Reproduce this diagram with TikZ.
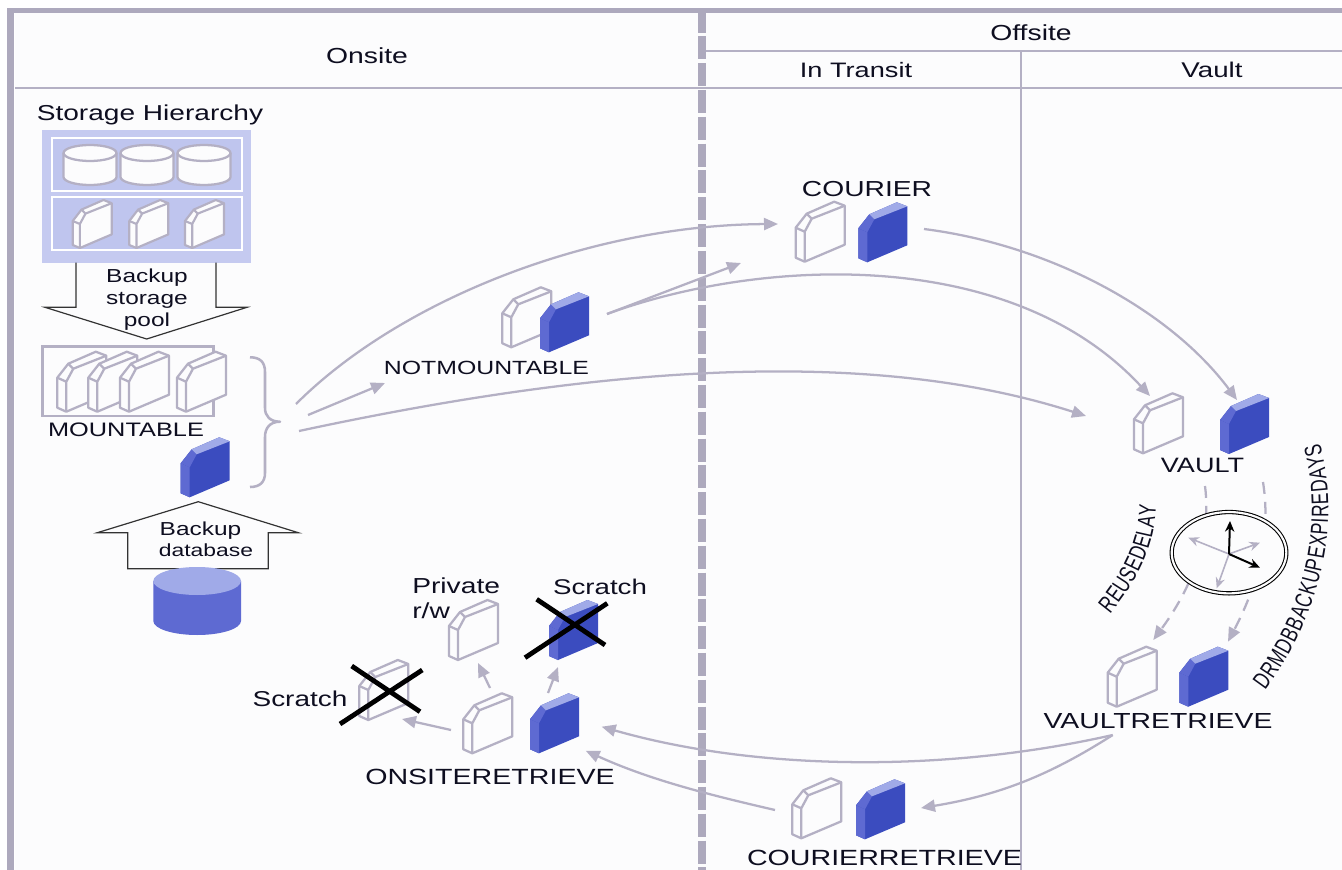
\documentclass[tikz,border=0pt]{standalone}
\usepackage{fontspec}
\setmainfont[FakeStretch=1.3]{Liberation Sans}
\newfontfamily\curvefont[FakeStretch=0.72]{Liberation Sans}
\usetikzlibrary{arrows.meta,decorations.text,shapes.geometric}
\definecolor{bgc}{HTML}{FCFCFD}
\definecolor{frm}{HTML}{ADA9BD}
\definecolor{lnc}{HTML}{B4B0C4}
\definecolor{front}{HTML}{3B4CBF}
\definecolor{sidec}{HTML}{5E6AD2}
\definecolor{topc}{HTML}{A0AAE8}
\definecolor{hier}{HTML}{C5CAF0}
\definecolor{hierin}{HTML}{BFC5EE}
\definecolor{txt}{HTML}{0E0E20}
\newcommand\pxfont[1]{\fontsize{\the\dimexpr#1pt*3/4\relax}{\the\dimexpr#1pt*9/10\relax}\selectfont}
\tikzset{
  lab/.style={font=\pxfont{#1},text=txt,inner sep=0pt,yshift=-0.75pt},
  flow/.style={draw=lnc,line width=1.7pt,-{Triangle[length=10.5pt,width=9pt,fill=lnc]}},
  dashflow/.style={draw=lnc,line width=1.7pt,dash pattern=on 9pt off 6pt,-{Triangle[length=10.5pt,width=9pt,fill=lnc]}},
  rule/.style={draw=lnc,line width=1.9pt},
  bigarrow/.style={draw=black!80,line width=0.9pt,line join=miter},
  cross/.style={draw=black,line width=3.6pt},
  hand/.style={line width=#1,-{Stealth[length=8pt,width=7pt]}},
  whitetape/.pic={
    \filldraw[draw=lnc,fill=bgc,line width=1.7pt,line join=round]
      (0,56)--(9,60)--(49,43)--(49,4)--(38.5,0)--(11,12)--(0,26)--cycle;
    \draw[lnc,line width=1.7pt,line join=round] (0,26)--(9,30)--(9,60) (9,30)--(16,17)--(49,4) (11,12)--(16,17);
  },
  bluetape/.pic={
    \fill[front] (0,56)--(9,60)--(49,43)--(49,4)--(38.5,0)--(11,12)--(0,26)--cycle;
    \fill[sidec] (0,56)--(9,60)--(9,30)--(0,26)--cycle;
    \fill[sidec] (0,26)--(9,30)--(16,17)--(11,12)--cycle;
    \fill[topc] (11,12)--(38.5,0)--(49,4)--(16,17)--cycle;
  },
  smalltape/.pic={
    \filldraw[draw=lnc,fill=bgc,line width=1.6pt,line join=round]
      (0,45)--(7.2,48)--(39,34.4)--(39,3.2)--(30.8,0)--(8.8,9.6)--(0,21)--cycle;
    \draw[lnc,line width=1.6pt,line join=round] (0,21)--(7.2,24)--(7.2,48) (7.2,24)--(12.8,13.6)--(39,3.2) (8.8,9.6)--(12.8,13.6);
  },
  disk/.pic={
    \filldraw[draw=lnc,fill=bgc,line width=1.7pt]
      (0,8)--(0,32) arc[x radius=26.5,y radius=8,start angle=180,end angle=0]--(53,8) arc[x radius=26.5,y radius=8,start angle=0,end angle=-180]--cycle;
    \draw[lnc,line width=1.7pt] (0,8) arc[x radius=26.5,y radius=8,start angle=180,end angle=0];
  }
}
\begin{document}
\begin{tikzpicture}[x=0.75pt,y=-0.75pt]
\useasboundingbox (0,0) rectangle (1342,870);
\fill[white] (0,0) rectangle (1342,870);
\fill[bgc] (15,13) rectangle (1342,870);
% frame
\fill[frm] (7,8) rectangle (14,870);
\fill[frm] (7,8) rectangle (1342,13);
\draw[rule] (15,88) -- (1342,88);
\draw[rule] (703,51) -- (1342,51);
\draw[rule] (1021,51) -- (1021,870);
\draw[frm,line width=5.5pt,dash pattern=on 17.25pt off 2.85pt] (702,9.7) -- (702,870);
% headers
\node[lab=21.8] (onsite) at (367,55) {Onsite};
\node[lab=21.8] (offsite) at (1031,32) {Offsite};
\node[lab=20.9] (transit) at (856,69) {In Transit};
\node[lab=21.3] (vaulthdr) at (1212,69) {Vault};
% storage hierarchy
\node[lab=21.6] (sh) at (150,113.5) {Storage Hierarchy};
\fill[hier] (41.7,130) rectangle (250.7,262.7);
\draw[white,line width=1.7pt,fill=hierin] (51.7,137.7) rectangle (241.7,191);
\draw[white,line width=1.7pt,fill=hierin] (51.7,197.3) rectangle (241.7,250);
\pic at (63.5,145) {disk};
\pic at (120.5,145) {disk};
\pic at (177.5,145) {disk};
\pic at (72.7,200) {smalltape};
\pic at (129.3,200) {smalltape};
\pic at (185,200) {smalltape};
% backup storage pool arrow
\draw[bigarrow] (76,262.7)--(76,307.3)--(45,307.3)--(146.7,339)--(247,307.3)--(216,307.3)--(216,262.7);
\node[lab=18.8] (bsp1) at (147,277) {Backup};
\node[lab=18.8] (bsp2) at (147,299) {storage};
\node[lab=18.8] (bsp3) at (147,320.5) {pool};
% mountable
\draw[rule] (42.7,346.7) rectangle (213.3,416);
\pic at (57.3,351.7) {whitetape};
\pic at (88.3,351.7) {whitetape};
\pic at (120,351.7) {whitetape};
\pic at (177,351.7) {whitetape};
\node[lab=19.5] (mountable) at (126,429) {MOUNTABLE};
\pic at (180.7,437.3) {bluetape};
% brace
\draw[rule,line join=round] (250,357.3) .. controls (260,357.3) and (265,362) .. (265,372) -- (265,408) .. controls (265,416) and (270,421.7) .. (280,421.7) .. controls (270,421.7) and (265,428) .. (265,437) -- (265,473) .. controls (265,482) and (260,487) .. (250,487);
% database arrow
\draw[bigarrow] (127.7,568.7)--(127.7,532.7)--(97.3,532.7)--(198.3,501.7)--(298.3,532.7)--(268.3,532.7)--(268.3,568.7)--cycle;
\node[lab=18.8] (bd1) at (200.5,530) {Backup};
\node[lab=17.6] (bd2) at (206,549) {database};
\fill[sidec] (153.3,581) -- (153.3,621) arc[x radius=43.85,y radius=14,start angle=180,end angle=0] -- (241,581) -- cycle;
\fill[topc] (197.15,581) ellipse[x radius=43.85,y radius=14];
% tape groups
\pic at (502.3,287.3) {whitetape};
\pic at (540,292.3) {bluetape};
\node[lab=19.1] (notm) at (486.5,367) {NOTMOUNTABLE};
\pic at (795.7,201.7) {whitetape};
\pic at (858.3,202.3) {bluetape};
\node[lab=21.7] (courier) at (867,188) {COURIER};
\pic at (1134,393.3) {whitetape};
\pic at (1220,394) {bluetape};
\node[lab=20.8] (vault) at (1202.5,464) {VAULT};
\pic at (1107.7,646.7) {whitetape};
\pic at (1179.3,646.7) {bluetape};
\node[lab=21.8] (vr) at (1158,720) {VAULTRETRIEVE};
\pic at (792.3,778.3) {whitetape};
\pic at (856,779.3) {bluetape};
\node[lab=22] (cr) at (884.5,857) {COURIERRETRIEVE};
\pic at (463.3,693.3) {whitetape};
\pic at (530,693.3) {bluetape};
\node[lab=22] (or) at (490,776) {ONSITERETRIEVE};
\pic at (449,600) {whitetape};
\pic at (549,600) {bluetape};
\pic at (359.3,660) {whitetape};
\node[lab=21.7,anchor=west] (priv) at (412,585) {Private};
\node[lab=21.7,anchor=west] (rw) at (412,610) {r/w};
\node[lab=21.3] (s1) at (600,586) {Scratch};
\node[lab=21.5] (s2) at (300,698) {Scratch};
% crosses
\coordinate (xa1) at (351.7,666); \coordinate (xa2) at (420,711.7);
\coordinate (xa3) at (340,724); \coordinate (xa4) at (422.3,670);
\coordinate (xb1) at (536.7,599.3); \coordinate (xb2) at (605,645);
\coordinate (xb3) at (525,657.7); \coordinate (xb4) at (607.3,603.3);
\draw[cross] (xa1)--(xa2) (xa3)--(xa4) (xb1)--(xb2) (xb3)--(xb4);
% connector ends
\coordinate (m1) at (296,404); \coordinate (courIn) at (778,224);
\coordinate (m2) at (308,415); \coordinate (notIn) at (385,383);
\coordinate (m3) at (299,431); \coordinate (vaultW) at (1086,416);
\coordinate (notOut) at (607,314); \coordinate (transIn) at (741,263);
\coordinate (vaultW2) at (1150,396);
\coordinate (courOut) at (924,229); \coordinate (vaultB) at (1237,400);
\coordinate (vrOut) at (1112.7,735); \coordinate (onB) at (601.7,726.7);
\coordinate (crB) at (921,808);
\coordinate (crOut) at (775,810); \coordinate (onB2) at (585.7,750.7);
\coordinate (onW) at (451,730); \coordinate (scrW) at (402,719);
\coordinate (onW2) at (490,688); \coordinate (privIn) at (478,663);
\coordinate (onB3) at (548,693); \coordinate (scrB) at (558,667);
% connectors
\draw[flow] (m1) .. controls (400,300) and (590,225) .. (courIn);
\draw[flow] (m2) -- (notIn);
\draw[flow] (m3) .. controls (560,375) and (850,340) .. (vaultW);
\draw[flow] (notOut) -- (transIn);
\draw[flow] (notOut) .. controls (760,258) and (1010,245) .. (vaultW2);
\draw[flow] (courOut) .. controls (1050,245) and (1170,310) .. (vaultB);
\draw[flow] (vrOut) .. controls (950,772) and (760,772) .. (onB);
\draw[flow] (vrOut) .. controls (1050,775) and (1000,795) .. (crB);
\draw[flow] (crOut) .. controls (710,795) and (650,780) .. (onB2);
\draw[flow] (onW) -- (scrW);
\draw[flow] (onW2) -- (privIn);
\draw[flow] (onB3) -- (scrB);
% dashed through clock
\coordinate (dl0) at (1205,486); \coordinate (dl1) at (1153.3,640);
\coordinate (dr0) at (1263,482); \coordinate (dr1) at (1228,641.7);
\draw[dashflow] (dl0) .. controls (1212,540) and (1190,590) .. (dl1);
\draw[dashflow] (dr0) .. controls (1272,540) and (1255,590) .. (dr1);
% clock
\node[ellipse,draw=black,fill=bgc,double=bgc,double distance=1.6pt,line width=0.8pt,minimum width=86pt,minimum height=61pt,inner sep=0pt] (clock) at (1229,552.7) {};
\coordinate (cc) at (1229,554);
\coordinate (h1) at (1230,521); \coordinate (h2) at (1260,567.7);
\coordinate (g1) at (1188.3,537.7); \coordinate (g2) at (1260,542.7); \coordinate (g3) at (1216.7,588.3);
\draw[lnc,hand=1.2pt] (cc)--(g1);
\draw[lnc,hand=1.2pt] (cc)--(g2);
\draw[lnc,hand=1.2pt] (cc)--(g3);
\draw[black,hand=1.5pt] (cc)--(h1);
\draw[black,hand=1.5pt] (cc)--(h2);
% curved labels
\path[decorate,decoration={text along path,text align={fit to path},text={|\curvefont\fontsize{18}{18}\selectfont\color{txt}|REUSEDELAY}}]
  (1110,614) .. controls (1132,587) and (1155,552) .. (1156,505);
\path[decorate,decoration={text along path,text align={fit to path},text={|\curvefont\fontsize{18}{18}\selectfont\color{txt}|DRMDBBACKUPEXPIREDAYS}}]
  (1265,690) .. controls (1310,630) and (1345,540) .. (1320,443);
\end{tikzpicture}
\end{document}
